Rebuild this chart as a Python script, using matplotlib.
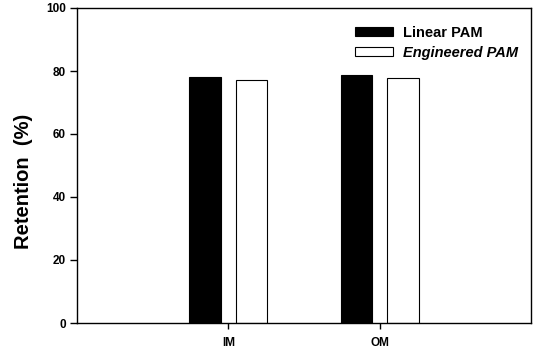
import numpy as np
import matplotlib
matplotlib.use('Agg')
import matplotlib.pyplot as plt

# Data
categories  = ['IM', 'OM']
linearPAM   = [78.2, 78.6]
engPAM      = [77.0, 77.8]
seriesNames = ['Linear PAM', 'Engineered PAM']

plt.rcParams['font.family'] = ['Liberation Sans', 'DejaVu Sans']
plt.rcParams['font.weight'] = 'bold'

fig = plt.figure(figsize=(5.35, 3.48), dpi=100)
ax  = fig.add_axes([77/535, 1 - 323/348, 454/535, 315/348])

xpos   = np.arange(1, len(categories) + 1)
width  = 0.21
offset = 0.153

ax.bar(xpos - offset, linearPAM, width, color='black', edgecolor='black',
       linewidth=0.8, label=seriesNames[0])
ax.bar(xpos + offset, engPAM, width, color='white', edgecolor='black',
       linewidth=0.8, label=seriesNames[1])

ax.set_xlim(0, 3)
ax.set_ylim(0, 100)
ax.set_xticks(xpos)
ax.set_xticklabels(categories, fontsize=8.5, fontweight='bold')
ax.set_yticks(np.arange(0, 101, 20))
ax.set_yticklabels([str(v) for v in range(0, 101, 20)], fontsize=8.5, fontweight='bold')
ax.tick_params(axis='y', direction='out', length=5, width=1, pad=3)
ax.tick_params(axis='x', direction='out', length=4, width=1, pad=6)
for sp in ax.spines.values():
    sp.set_linewidth(1.0)

ax.set_ylabel('Retention  (%)', fontsize=14.5, fontweight='bold')
ax.yaxis.label.set_va('center')
ax.yaxis.set_label_coords(-0.117, 0.451)

leg = ax.legend(loc='upper left', bbox_to_anchor=(0.612, 0.944), frameon=False,
                fontsize=10.5, handlelength=2.6, handleheight=0.55, handletextpad=0.7,
                labelspacing=0.42, borderpad=0, borderaxespad=0)
for t in leg.get_texts():
    t.set_fontweight('bold')
leg.get_texts()[1].set_fontstyle('italic')

plt.savefig('out.png', dpi=100)
plt.close()
